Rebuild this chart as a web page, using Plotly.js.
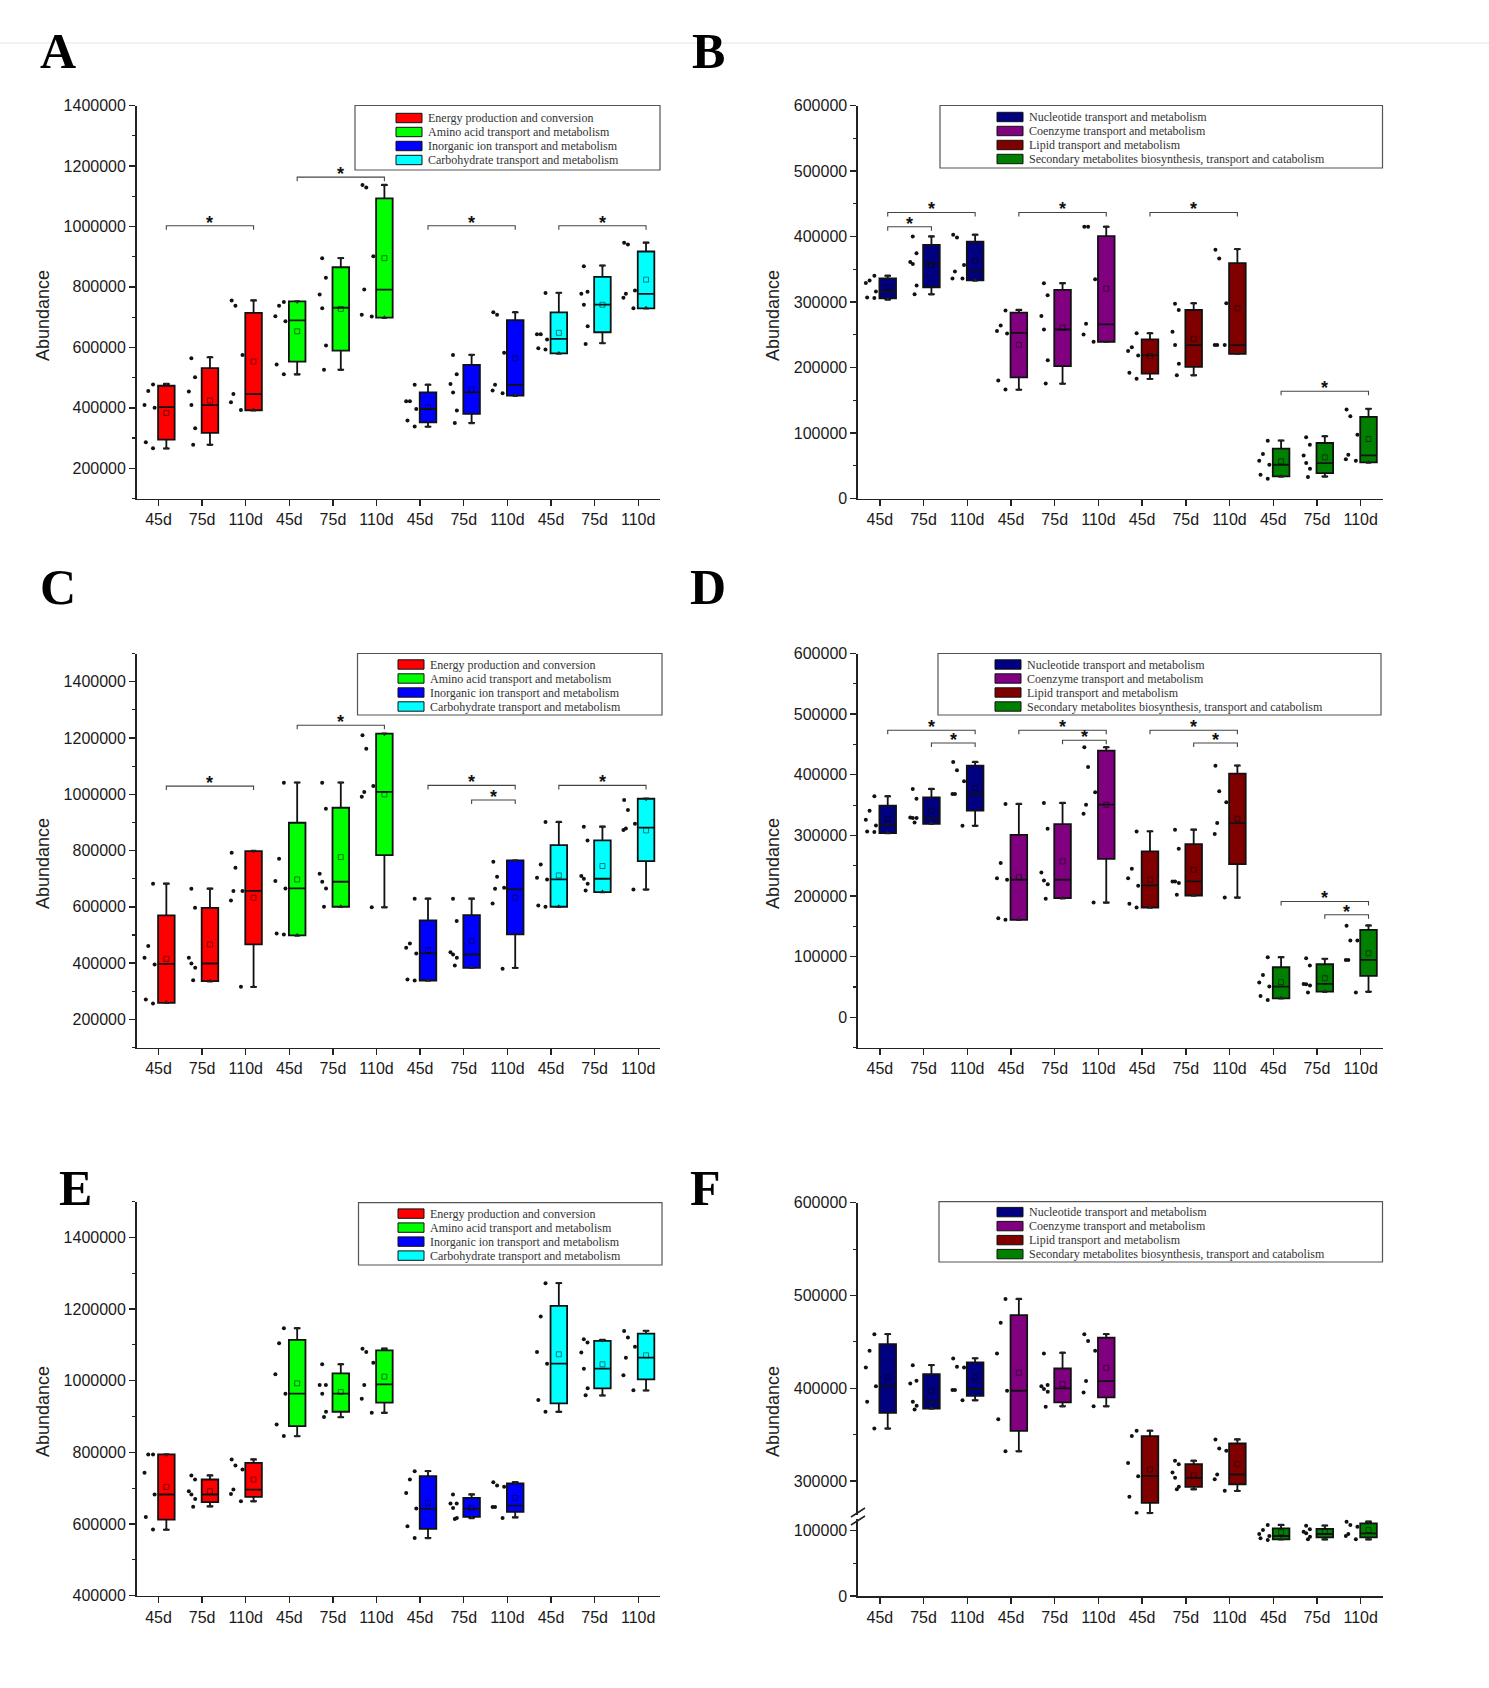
<!DOCTYPE html>
<html>
<head>
<meta charset="utf-8">
<script src="https://cdn.plot.ly/plotly-3.0.1.min.js"></script>
<style>body{margin:0;background:#fff;}</style>
</head>
<body>
<div id="chart" style="width:1489px;height:1688px;"></div>
<script>
// ---------------- DATA ----------------
const timeLabels = ["45d", "75d", "110d"];
const namesACE = ["Energy production and conversion", "Amino acid transport and metabolism", "Inorganic ion transport and metabolism", "Carbohydrate transport and metabolism"];
const namesBDF = ["Nucleotide transport and metabolism", "Coenzyme transport and metabolism", "Lipid transport and metabolism", "Secondary metabolites biosynthesis, transport and catabolism"];
const colorsACE = ["#FF0000", "#00FF00", "#0000FF", "#00FFFF"];
const colorsBDF = ["#000080", "#800080", "#800000", "#008000"];

// stats rows per box: [lower whisker, Q1, median, Q3, upper whisker, mean]
// Panel A
const A_energy_stats = [[266000,295000,402000,473000,479000,383000],[278000,317000,409000,531000,567000,424000],[392000,392000,445000,714000,755000,553000]];
const A_energy_points = [[266000,286000,400000,409000,456000,477000],[278000,332000,409000,454000,501000,564000],[393000,418000,446000,575000,738000,755000]];
const A_amino_stats = [[511000,553000,689000,752000,752000,653000],[526000,589000,731000,865000,895000,727000],[698000,698000,791000,1093000,1137000,895000]];
const A_amino_points = [[511000,543000,686000,703000,738000,750000],[526000,606000,729000,775000,830000,895000],[702000,708000,791000,901000,1129000,1137000]];
const A_ion_stats = [[338000,352000,396000,451000,476000,402000],[350000,380000,451000,542000,575000,460000],[440000,440000,476000,690000,716000,564000]];
const A_ion_points = [[338000,358000,396000,422000,422000,476000],[350000,391000,451000,479000,511000,575000],[448000,457000,476000,582000,708000,716000]];
const A_carb_stats = [[580000,580000,628000,716000,780000,648000],[614000,650000,741000,833000,870000,741000],[729000,729000,777000,917000,946000,824000]];
const A_carb_points = [[593000,597000,626000,643000,643000,780000],[611000,670000,741000,777000,784000,868000],[729000,764000,777000,788000,940000,946000]];
const A_sig = [[0,0,2,1002000],[1,0,2,1163000],[2,0,2,1002000],[3,0,2,1002000]];

// Panel B
const B_nucl_stats = [[304000,305600,316000,336200,340000,322000],[312000,322500,358700,387000,400000,356000],[333000,333000,346400,392000,402500,363000]];
const B_nucl_points = [[306000,307000,316000,329000,333000,340000],[312000,325000,358000,361000,374500,400000],[336000,336000,346400,356600,398500,402500]];
const B_coen_stats = [[166300,185000,253000,283700,287800,234700],[175500,202000,258000,318400,328600,260700],[239300,239300,265800,400500,414800,320400]];
const B_coen_points = [[166300,180000,252000,255600,264300,287200],[175500,211200,258200,278600,310200,328600],[239300,250500,266800,334700,414800,414800]];
const B_lipid_stats = [[182700,190800,218400,242900,252100,217300],[188300,201000,234200,287800,298000,243900],[220900,220900,234200,359200,380600,290300]];
const B_lipid_points = [[182700,191800,218400,225000,231000,252100],[188300,205600,234200,254600,287800,297500],[234200,234200,234200,298000,366300,379600]];
const B_sec_stats = [[33700,33700,51500,76000,88300,56600],[33700,38800,54100,84700,95000,62800],[55100,55100,65800,124500,136700,90800]];
const B_sec_points = [[30000,36200,51500,57700,67900,88300],[32700,45400,54100,65800,82200,93400],[57700,60000,66800,97500,125500,135700]];
const B_sig = [[0,0,2,436700],[0,0,1,414800],[1,0,2,436700],[2,0,2,436700],[3,0,2,163800]];

// Panel C
const C_energy_stats = [[259000,259000,397700,569500,682000,415500],[336100,336100,398800,596700,664300,466400],[315900,466400,657100,798000,798000,632300]];
const C_energy_points = [[256700,270900,395300,419000,460500,682000],[339600,383500,398800,419000,596700,664300],[315900,622800,656000,656000,738900,792200]];
const C_amino_stats = [[498400,498400,665400,898800,1041000,697400],[600300,600300,689100,952000,1041000,776800],[599000,783900,1008200,1215200,1215200,999500]];
const C_amino_points = [[502000,505500,665400,691500,770900,1041000],[600300,665400,689100,717600,948600,1041000],[599000,991300,1008200,1029200,1161900,1209300]];
const C_ion_stats = [[338400,338400,434400,551700,628700,446200],[383400,383400,430800,570600,628700,478200],[383400,501900,661900,765000,765000,632300]];
const C_ion_points = [[338400,342000,434400,454500,470000,628700],[391700,419000,430800,439000,549300,628700],[379900,612100,664300,667800,706900,760200]];
const C_carb_stats = [[600300,600300,697400,819400,901200,711600],[652400,652400,699800,836000,884600,745000],[661900,762600,881100,984100,984100,871600]];
const C_carb_points = [[600300,605000,697400,703300,750700,901200],[658300,682000,699800,709300,836000,884600],[661900,872800,878700,895300,943900,979400]];
const C_sig = [[0,0,2,1029000],[1,0,2,1245000],[2,0,2,1031500],[2,1,2,979400],[3,0,2,1031500]];

// Panel D
const D_nucl_stats = [[303800,303800,317600,349000,364400,327000],[319200,319200,328600,362700,376500,340700],[316000,340700,368200,415000,421000,378200]];
const D_nucl_points = [[305500,306600,316500,325900,340700,364400],[321400,328600,328600,329700,360500,376500],[316000,368200,368200,389200,407300,421000]];
const D_coen_stats = [[160700,160700,226800,301000,351700,231200],[196500,196500,226800,318700,353400,257000],[189300,261400,350600,439800,445300,350600]];
const D_coen_points = [[160700,163500,226800,229500,254300,351700],[195400,219600,225700,238900,311000,353400],[189300,335800,350600,371000,412800,445300]];
const D_lipid_stats = [[181100,181100,217400,273600,306600,226800],[200900,200900,224000,285700,309300,243300],[197600,252600,320300,401800,415000,327500]];
const D_lipid_points = [[181100,187100,216900,229500,244900,306600],[202000,221300,224000,224000,277900,309300],[197600,302200,320300,354500,372600,415000]];
const D_sec_stats = [[31300,31300,50600,82500,99000,57800],[42300,42300,55000,87500,96300,64400],[42300,68200,94600,144200,151300,105600]];
const D_sec_points = [[28600,35200,50600,57200,69900,99000],[40700,52300,54500,55000,85300,97400],[40700,94600,94600,126600,126600,150800]];
const D_sig = [[0,0,2,473400],[0,1,2,452500],[1,0,2,473400],[1,1,2,456900],[2,0,2,473400],[2,1,2,452500],[3,0,2,191000],[3,1,2,169000]];

// Panel E
const E_energy_stats = [[584500,612500,682400,794200,794200,703800],[649700,661000,682400,724300,735500,691700],[663700,675800,696300,770900,780200,724300]];
const E_energy_points = [[584500,619900,682400,743000,794200,794200],[648100,670200,682400,691700,724300,735500],[663700,684200,696300,752300,763400,780200]];
const E_amino_stats = [[845500,873400,963800,1113900,1146500,992700],[898600,913500,963800,1020700,1045800,968500],[910700,938700,990000,1085000,1089600,1011400]];
const E_amino_points = [[845500,878000,963800,1017900,1104600,1146500],[898600,913500,963800,988000,988000,1045800],[910700,949800,988000,1050500,1080300,1089600]];
const E_ion_stats = [[561200,586400,643200,733600,747600,659100],[617000,619900,643200,673000,682400,645000],[618900,633900,651600,713100,716800,673000]];
const E_ion_points = [[561200,593800,643200,687000,724300,747600],[614300,617000,645000,657200,657200,682400],[617000,647900,647900,703800,707500,716800]];
const E_carb_stats = [[913500,936800,1047700,1209000,1272300,1073800],[959200,978700,1033700,1111100,1113900,1045800],[973100,1003900,1064500,1131600,1139000,1071000]];
const E_carb_points = [[913500,946100,1047700,1080300,1179100,1272300],[959200,978700,1033700,1078500,1106400,1115700],[973100,1015100,1064500,1095200,1120400,1139000]];
const E_sig = [];

// Panel F
const F_nucl_stats = [[356800,373600,402400,447700,458400,411700],[378300,378300,385500,415300,425000,397400],[387300,392000,399200,427900,432200,411700]];
const F_nucl_points = [[356800,385500,402400,422500,440500,458400],[377200,381200,385500,405300,408100,425000],[387300,398100,398100,422500,423200,432200]];
const F_coen_stats = [[332300,354200,397400,478900,496200,416800],[380800,384800,399900,421400,438300,404500],[380800,390200,407800,454500,458400,422100]];
const F_coen_points = [[332300,366800,397400,437600,470700,496200],[380100,396300,399200,402400,403500,437600],[380800,395600,407800,440500,450900,458400]];
const F_lipid_stats = [[265800,276600,305700,348500,354200,312600],[291400,293900,303600,318300,321900,306400],[289600,296700,307200,340600,344900,318300]];
const F_lipid_points = [[265800,283100,305400,319700,348800,354200],[291400,293900,303600,309300,318300,321900],[289600,302100,307200,332700,335200,344900]];
const F_sec_stats = [[86700,86700,91800,103600,108700,97400],[86700,89800,94900,102600,107700,98500],[86700,89800,95900,111200,113800,101000]];
const F_sec_points = [[85700,88300,91800,94900,101000,108700],[86700,90800,95900,98500,102000,107700],[86700,91800,94900,106100,108700,113800]];
const F_sig = [];

// ---------------- LAYOUT / DRAWING ----------------
const W = 1489, H = 1688;
const BOX_SHIFT = 0.18, BOX_W = 0.38;
const px = v => v / W;
const py = v => 1 - v / H;
const SANS = "Liberation Sans, Arial, sans-serif";
const SERIF = "Liberation Serif, Times New Roman, serif";

const panelSpecs = [
  {letter:"A", letterPos:[58,51], left:136.7, right:660, titlePos:[43,316],
   yaxes:[{top:105.5,bottom:498.5,range:[100000,1400000],dtick:200000,minor:100000}],
   legendBox:[355,105.5,660,170], swX:396, txX:426, rowOff:12.5,
   names:namesACE, colors:colorsACE,
   stats:[A_energy_stats,A_amino_stats,A_ion_stats,A_carb_stats],
   points:[A_energy_points,A_amino_points,A_ion_points,A_carb_points], sig:A_sig},
  {letter:"B", letterPos:[708,51], left:858, right:1382.5, titlePos:[773,316],
   yaxes:[{top:105.5,bottom:498.5,range:[0,600000],dtick:100000,minor:50000}],
   legendBox:[940,105.5,1382.5,168], swX:997, txX:1027, rowOff:11.5,
   names:namesBDF, colors:colorsBDF,
   stats:[B_nucl_stats,B_coen_stats,B_lipid_stats,B_sec_stats],
   points:[B_nucl_points,B_coen_points,B_lipid_points,B_sec_points], sig:B_sig},
  {letter:"C", letterPos:[58,587], left:136.7, right:660, titlePos:[43,864],
   yaxes:[{top:653.5,bottom:1047.6,range:[100000,1500000],dtick:200000,minor:100000}],
   legendBox:[357.5,653.5,662,715], swX:398, txX:428, rowOff:11,
   names:namesACE, colors:colorsACE,
   stats:[C_energy_stats,C_amino_stats,C_ion_stats,C_carb_stats],
   points:[C_energy_points,C_amino_points,C_ion_points,C_carb_points], sig:C_sig},
  {letter:"D", letterPos:[708,587], left:858, right:1382.5, titlePos:[773,864],
   yaxes:[{top:653.5,bottom:1047.6,range:[-50000,600000],dtick:100000,minor:50000}],
   legendBox:[938,653.5,1381,715], swX:995, txX:1025, rowOff:11,
   names:namesBDF, colors:colorsBDF,
   stats:[D_nucl_stats,D_coen_stats,D_lipid_stats,D_sec_stats],
   points:[D_nucl_points,D_coen_points,D_lipid_points,D_sec_points], sig:D_sig},
  {letter:"E", letterPos:[75,1188], left:136.7, right:660, titlePos:[43,1412],
   yaxes:[{top:1201.6,bottom:1595.7,range:[400000,1500000],dtick:200000,minor:100000}],
   legendBox:[358.5,1202.6,662,1265], swX:398, txX:428, rowOff:11,
   names:namesACE, colors:colorsACE,
   stats:[E_energy_stats,E_amino_stats,E_ion_stats,E_carb_stats],
   points:[E_energy_points,E_amino_points,E_ion_points,E_carb_points], sig:E_sig},
  {letter:"F", letterPos:[705,1188], left:858, right:1382.5, titlePos:[773,1412],
   yaxes:[{top:1518.9,bottom:1596,range:[0,118000],dtick:100000,minor:50000},
          {top:1202.7,bottom:1514.6,range:[264000,600000],dtick:100000,minor:50000}],
   seriesAxis:[1,1,1,0],
   legendBox:[939,1201.6,1382.5,1262], swX:997, txX:1027, rowOff:10.5,
   names:namesBDF, colors:colorsBDF,
   stats:[F_nucl_stats,F_coen_stats,F_lipid_stats,F_sec_stats],
   points:[F_nucl_points,F_coen_points,F_lipid_points,F_sec_points], sig:F_sig}
];

const layout = {
  width: W, height: H,
  margin: {l:0, r:0, t:0, b:0},
  paper_bgcolor: "#ffffff", plot_bgcolor: "rgba(0,0,0,0)",
  showlegend: false,
  font: {family: SANS, color: "#222"},
  shapes: [], annotations: []
};
const traces = [];
const tickFont = {family: SANS, size: 16, color: "#1a1a1a"};

// light separator line at top of page
layout.shapes.push({type:"line", xref:"paper", yref:"paper", x0:0, x1:1, y0:py(43), y1:py(43), line:{color:"#e4e4e4", width:1}});

panelSpecs.forEach((p, pi) => {
  const n = pi + 1;
  const xId = n === 1 ? "x" : "x" + n;
  const xName = n === 1 ? "xaxis" : "xaxis" + n;
  const yIds = p.yaxes.map((ax, k) => k === 0 ? (n === 1 ? "y" : "y" + n) : "y7");
  const nGroups = p.names.length;
  const nT = timeLabels.length;
  const nCat = nGroups * nT;
  const tickvals = Array.from({length: nCat}, (_, i) => i);
  const ticktext = tickvals.map(i => timeLabels[i % nT]);

  layout[xName] = {
    domain: [px(p.left), px(p.right)], anchor: yIds[0],
    range: [-0.5, nCat - 0.5], tickmode: "array", tickvals: tickvals, ticktext: ticktext,
    ticks: "outside", ticklen: 6, tickwidth: 1.4, tickcolor: "#222",
    showline: true, linecolor: "#222", linewidth: 1.6,
    showgrid: false, zeroline: false, tickfont: tickFont, fixedrange: true
  };
  p.yaxes.forEach((ax, k) => {
    const yName = yIds[k] === "y" ? "yaxis" : "yaxis" + yIds[k].slice(1);
    layout[yName] = {
      domain: [py(ax.bottom), py(ax.top)], anchor: xId,
      range: ax.range, tick0: 0, dtick: ax.dtick, tickformat: "d",
      ticks: "outside", ticklen: 6, tickwidth: 1.4, tickcolor: "#222",
      minor: {dtick: ax.minor, tick0: 0, ticks: "outside", ticklen: 3.5, tickwidth: 1.1, tickcolor: "#222", showgrid: false},
      showline: true, linecolor: "#222", linewidth: 1.6,
      showgrid: false, zeroline: false, tickfont: tickFont, fixedrange: true
    };
  });

  // boxes, points, means, whisker-end markers
  p.stats.forEach((st, gi) => {
    const axIdx = p.seriesAxis ? p.seriesAxis[gi] : 0;
    const yId = yIds[axIdx];
    const xs = st.map((_, j) => gi * nT + j + BOX_SHIFT);
    traces.push({
      type: "box", orientation: "v", name: p.names[gi],
      x: xs, y: p.points[gi],
      lowerfence: st.map(s => s[0]), q1: st.map(s => s[1]), median: st.map(s => s[2]),
      q3: st.map(s => s[3]), upperfence: st.map(s => s[4]), mean: st.map(s => s[5]),
      boxmean: false, boxpoints: "all", jitter: 0.75, pointpos: -2,
      width: BOX_W, whiskerwidth: 0.4,
      fillcolor: p.colors[gi], line: {color: "#111", width: 1.8},
      marker: {color: "#111", size: 4},
      xaxis: xId, yaxis: yId, showlegend: false, hoverinfo: "y"
    });
    traces.push({
      type: "scatter", mode: "markers", name: p.names[gi] + " mean",
      x: xs, y: st.map(s => s[5]),
      marker: {symbol: "square-open", size: 5, color: "rgba(0,0,0,0.5)", line: {width: 1}},
      xaxis: xId, yaxis: yId, showlegend: false, hoverinfo: "skip"
    });
    traces.push({
      type: "scatter", mode: "markers", name: p.names[gi] + " max",
      x: xs, y: st.map(s => s[4]),
      marker: {symbol: "triangle-down", size: 5, color: "#222"},
      xaxis: xId, yaxis: yId, showlegend: false, hoverinfo: "skip"
    });
    traces.push({
      type: "scatter", mode: "markers", name: p.names[gi] + " min",
      x: xs, y: st.map(s => s[0]),
      marker: {symbol: "triangle-up", size: 5, color: "#222"},
      xaxis: xId, yaxis: yId, showlegend: false, hoverinfo: "skip"
    });
  });

  // significance brackets
  const ax0 = p.yaxes[0];
  p.sig.forEach(([gi, a, b, val]) => {
    const drop = 4 * (ax0.range[1] - ax0.range[0]) / (ax0.bottom - ax0.top);
    const x1 = gi * nT + a + BOX_SHIFT, x2 = gi * nT + b + BOX_SHIFT;
    layout.shapes.push({type: "path", xref: xId, yref: yIds[0],
      path: `M${x1},${val - drop} L${x1},${val} L${x2},${val} L${x2},${val - drop}`,
      line: {color: "#444", width: 1.1}});
    layout.annotations.push({xref: xId, yref: yIds[0], x: (x1 + x2) / 2, y: val, text: "<b>*</b>",
      showarrow: false, xanchor: "center", yanchor: "bottom", yshift: -9,
      font: {family: SANS, size: 18, color: "#111"}});
  });

  // legend box
  const [bl, bt, br, bb] = p.legendBox;
  layout.shapes.push({type: "rect", xref: "paper", yref: "paper", x0: px(bl), x1: px(br), y0: py(bb), y1: py(bt),
    line: {color: "#555", width: 1.2}, fillcolor: "rgba(255,255,255,0)"});
  p.names.forEach((nm, gi) => {
    const cy = bt + p.rowOff + 14 * gi;
    layout.shapes.push({type: "rect", xref: "paper", yref: "paper",
      x0: px(p.swX), x1: px(p.swX + 26), y0: py(cy + 4.7), y1: py(cy - 4.7),
      fillcolor: p.colors[gi], line: {color: "#111", width: 1}});
    layout.annotations.push({xref: "paper", yref: "paper", x: px(p.txX), y: py(cy),
      xanchor: "left", yanchor: "middle", text: nm, showarrow: false,
      font: {family: SERIF, size: 12, color: "#333"}});
  });

  // panel letter and y title
  layout.annotations.push({xref: "paper", yref: "paper", x: px(p.letterPos[0]), y: py(p.letterPos[1]),
    text: "<b>" + p.letter + "</b>", showarrow: false, xanchor: "center", yanchor: "middle",
    font: {family: SERIF, size: 50, color: "#000"}});
  layout.annotations.push({xref: "paper", yref: "paper", x: px(p.titlePos[0]), y: py(p.titlePos[1]),
    text: "Abundance", textangle: -90, showarrow: false, xanchor: "center", yanchor: "middle",
    font: {family: SANS, size: 18, color: "#222"}});
});

// axis break marks for panel F
[[851, 1517, 865, 1508], [851, 1525, 865, 1516]].forEach(([x0, y0, x1, y1]) => {
  layout.shapes.push({type: "line", xref: "paper", yref: "paper",
    x0: px(x0), y0: py(y0), x1: px(x1), y1: py(y1), line: {color: "#222", width: 1.5}});
});

Plotly.newPlot("chart", traces, layout, {staticPlot: true, displayModeBar: false});
</script>
</body>
</html>
